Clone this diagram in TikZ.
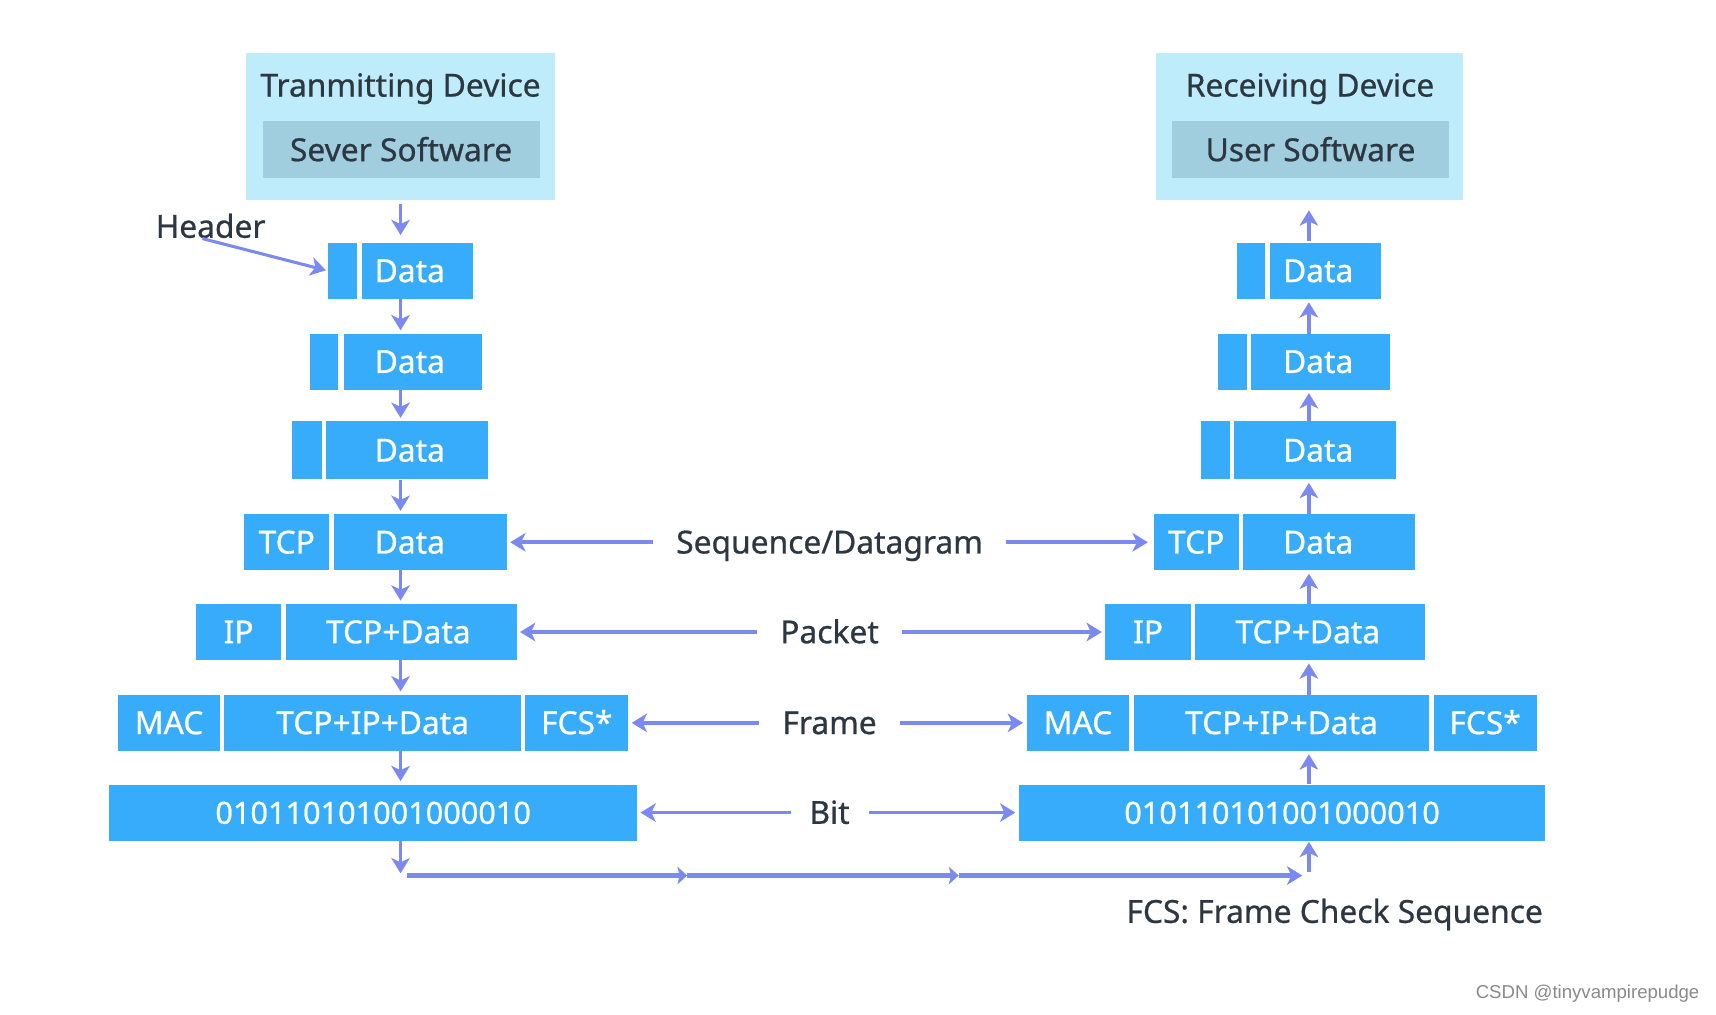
\documentclass[tikz,border=0pt]{standalone}
\usepackage{fontspec}
\setmainfont{Noto Sans}[FakeBold=0.7]
\newfontfamily\markfont{Liberation Sans}
\usepackage{tikz}
\usetikzlibrary{arrows.meta, positioning}

\definecolor{pdublue}{RGB}{54,172,250}
\definecolor{devbg}{RGB}{190,236,250}
\definecolor{swbg}{RGB}{160,206,222}
\definecolor{arrowc}{RGB}{122,138,240}
\definecolor{textdark}{RGB}{45,55,65}

\begin{document}
\begin{tikzpicture}[x=1pt, y=-1pt,
	txt/.style={font=\fontsize{29}{31}\selectfont, text height=20.5pt, text depth=0pt},
	pdu/.style={txt, fill=pdublue, text=white, inner sep=0pt, minimum height=51pt},
	tshift/.style={execute at begin node={\hspace*{#1}}},
	dev/.style={fill=devbg, inner sep=0pt, minimum width=282pt, minimum height=135pt},
	soft/.style={txt, fill=swbg, text=textdark, inner sep=0pt, minimum width=253pt, minimum height=52pt},
	note/.style={txt, text=textdark, inner sep=0pt},
	lbl/.style={note, inner xsep=21pt},
	arr/.style={draw=arrowc, line width=3.4pt, -{Stealth[length=14pt, width=17pt, inset=4pt]}},
	wire/.style={draw=arrowc, line width=5pt, -{Stealth[length=9pt, width=16pt, inset=2pt]}},
	]
	\fill[white] (0,0) rectangle (1568,926.6);
	\useasboundingbox (0,0) rectangle (1568,926.6);
	\coordinate (Lx) at (366,0);
	\coordinate (Rx) at (1196,0);

	% transmitting side
	\node[dev] (Ldev) at (366,115.5) {};
	\node[note] (Ltitle) at (366,78) {Tranmitting Device};
	\node[soft] (Lsw) at (366.5,137) {Sever Software};
	\node[note] (hdr) at (192.5,207) {Header};
	\coordinate (hdrtail) at (185,218);

	\node[pdu, minimum width=26pt] (Ld1h) at (313,247.5) {};
	\node[pdu, minimum width=101pt, tshift=-14pt] (Ld1) at (381.5,247.5) {Data};
	\node[pdu, minimum width=26pt] (Ld2h) at (296,330.5) {};
	\node[pdu, minimum width=126pt, tshift=-5pt] (Ld2) at (377,330.5) {Data};
	\node[pdu, minimum width=27pt, minimum height=53pt] (Ld3h) at (280.5,411.5) {};
	\node[pdu, minimum width=148pt, minimum height=53pt, tshift=5pt] (Ld3) at (372,411.5) {Data};
	\node[pdu, minimum width=78pt] (Ltcp) at (262,495.5) {TCP};
	\node[pdu, minimum width=158pt, tshift=-19pt] (Ltd) at (384,495.5) {Data};
	\node[pdu, minimum width=78pt] (Lip) at (218,577.5) {IP};
	\node[pdu, minimum width=211pt, tshift=-5pt] (Litd) at (366.5,577.5) {TCP+Data};
	\node[pdu, minimum width=93pt] (Lmac) at (154.5,660.5) {MAC};
	\node[pdu, minimum width=271pt] (Lmid) at (340.5,660.5) {TCP+IP+Data};
	\node[pdu, minimum width=94pt] (Lfcs) at (527,660.5) {FCS*};
	\node[pdu, minimum width=482pt, font=\fontsize{28}{30}\selectfont] (Lbit) at (341,742.5) {010110101001000010};
	\coordinate (Lend) at (366,798);

	% receiving side
	\node[dev, minimum width=281pt] (Rdev) at (1196.5,115.5) {};
	\node[note] (Rtitle) at (1197,78) {Receiving Device};
	\node[soft] (Rsw) at (1197.5,137) {User Software};

	\node[pdu, minimum width=26pt] (Rd1h) at (1143,247.5) {};
	\node[pdu, minimum width=102pt, tshift=-13pt] (Rd1) at (1211,247.5) {Data};
	\node[pdu, minimum width=26pt] (Rd2h) at (1126,330.5) {};
	\node[pdu, minimum width=127pt, tshift=-4pt] (Rd2) at (1206.5,330.5) {Data};
	\node[pdu, minimum width=27pt, minimum height=53pt] (Rd3h) at (1110.5,411.5) {};
	\node[pdu, minimum width=148pt, minimum height=53pt, tshift=5pt] (Rd3) at (1202,411.5) {Data};
	\node[pdu, minimum width=78pt] (Rtcp) at (1093,495.5) {TCP};
	\node[pdu, minimum width=157pt, tshift=-20pt] (Rtd) at (1214.5,495.5) {Data};
	\node[pdu, minimum width=78pt] (Rip) at (1049,577.5) {IP};
	\node[pdu, minimum width=210pt, tshift=-4pt] (Ritd) at (1197,577.5) {TCP+Data};
	\node[pdu, minimum width=94pt] (Rmac) at (985,660.5) {MAC};
	\node[pdu, minimum width=270pt] (Rmid) at (1171,660.5) {TCP+IP+Data};
	\node[pdu, minimum width=94pt] (Rfcs) at (1357,660.5) {FCS*};
	\node[pdu, minimum width=481pt, font=\fontsize{28}{30}\selectfont] (Rbit) at (1171.5,742.5) {010110101001000010};
	\coordinate (Rstart) at (1196,797);

	% unit names in the middle
	\node[lbl] (seq) at (758,495.5) {Sequence/Datagram};
	\node[lbl] (pkt) at (758,577.5) {Packet};
	\node[lbl] (frm) at (758,660.5) {Frame};
	\node[lbl, inner xsep=17pt] (bit) at (758,742.5) {Bit};

	\node[note, anchor=east] (fcsnote) at (1410,833) {FCS: Frame Check Sequence};
	\node[anchor=east, inner sep=0pt, text={rgb,255:red,138;green,138;blue,138}, font=\markfont\fontsize{17}{19}\selectfont] (wm) at (1553,908) {CSDN @tinyvampirepudge};

	% the wire
	\coordinate (Lgnd) at (372,800);
	\coordinate (m1) at (628,800);
	\coordinate (m2) at (876,800);
	\coordinate (Rgnd) at (1190,800);

	\path
	(Ldev.south -| Lx) edge[arr, shorten <=3pt, shorten >=7pt] (Ld1.north -| Lx)
	(Ld1.south -| Lx) edge[arr, shorten >=3pt] (Ld2.north -| Lx)
	(Ld2.south -| Lx) edge[arr, shorten >=3pt] (Ld3.north -| Lx)
	(Ld3.south -| Lx) edge[arr, shorten >=3pt] (Ltd.north -| Lx)
	(Ltd.south -| Lx) edge[arr, shorten >=3pt] (Litd.north -| Lx)
	(Litd.south -| Lx) edge[arr, shorten >=3pt] (Lmid.north -| Lx)
	(Lmid.south -| Lx) edge[arr, shorten >=3pt] (Lbit.north -| Lx)
	(Lbit.south -| Lx) edge[arr] (Lend)
	(hdrtail) edge[arr, line width=2.8pt, shorten >=2pt] (Ld1h.west)
	;
	\path
	(Rstart) edge[arr, shorten >=1pt] (Rbit.south -| Rx)
	(Rbit.north -| Rx) edge[arr, shorten >=3pt] (Rmid.south -| Rx)
	(Rmid.north -| Rx) edge[arr, shorten >=3pt] (Ritd.south -| Rx)
	(Ritd.north -| Rx) edge[arr, shorten >=3pt] (Rtd.south -| Rx)
	(Rtd.north -| Rx) edge[arr, shorten >=3pt] (Rd3.south -| Rx)
	(Rd3.north -| Rx) edge[arr, shorten >=3pt] (Rd2.south -| Rx)
	(Rd2.north -| Rx) edge[arr, shorten >=3pt] (Rd1.south -| Rx)
	(Rd1.north -| Rx) edge[arr, shorten <=2pt, shorten >=9pt] (Rdev.south -| Rx)
	;
	\path
	(seq.west) edge[arr, shorten >=3pt] (Ltd.east)
	(seq.east) edge[arr, shorten >=5pt] (Rtcp.west)
	(pkt.west) edge[arr, shorten >=3pt] (Litd.east)
	(pkt.east) edge[arr, shorten >=3pt] (Rip.west)
	(frm.west) edge[arr, shorten >=3pt] (Lfcs.east)
	(frm.east) edge[arr, shorten >=3pt] (Rmac.west)
	(bit.west) edge[arr, shorten >=3pt] (Lbit.east)
	(bit.east) edge[arr, shorten >=3pt] (Rbit.west)
	;
	\path
	(Lgnd) edge[wire] (m1)
	(m1) edge[wire] (m2)
	(m2) edge[wire, -{Stealth[length=14pt, width=17pt, inset=4pt]}] (Rgnd)
	;
\end{tikzpicture}
\end{document}
